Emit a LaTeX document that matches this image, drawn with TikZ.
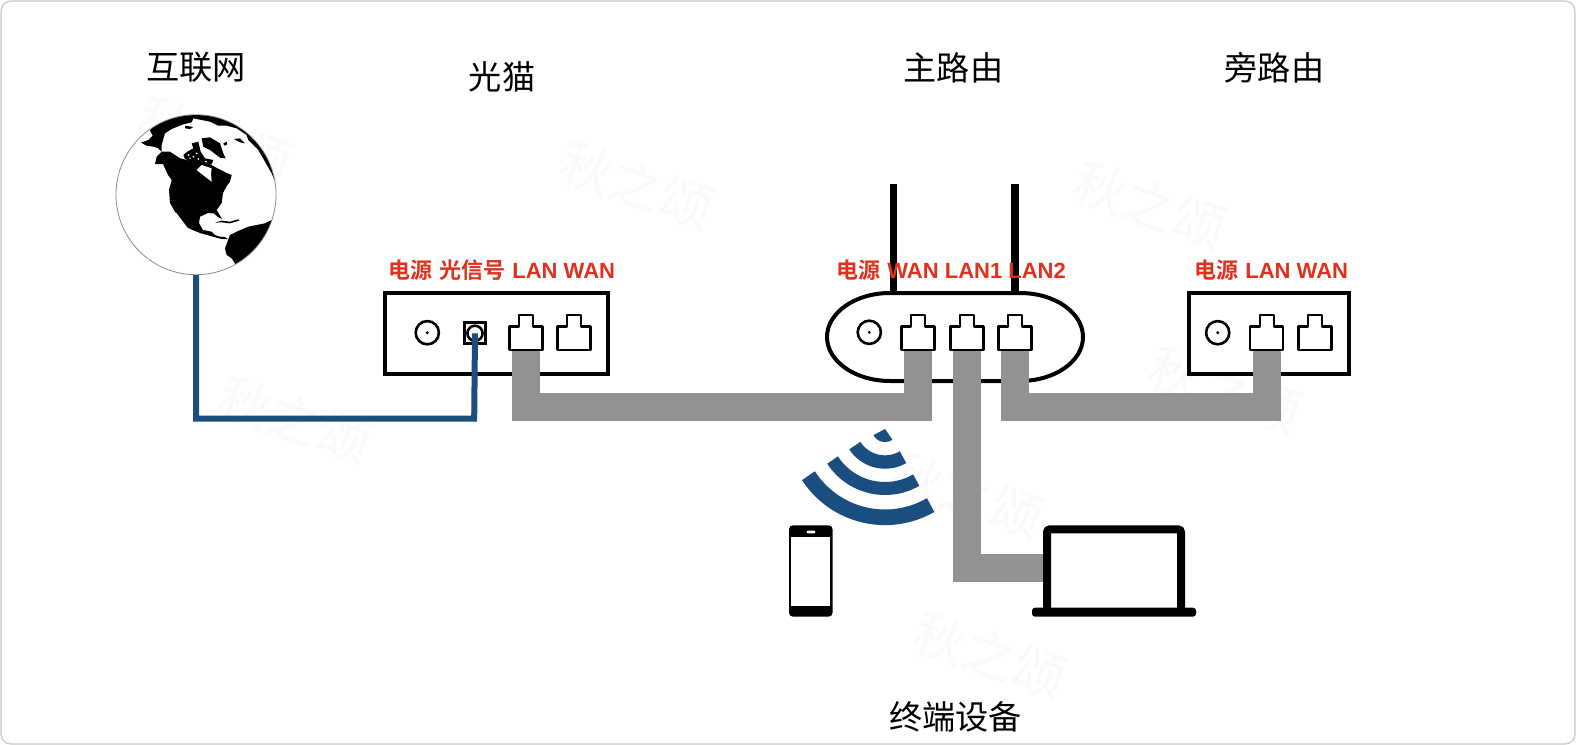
\documentclass[tikz,border=0pt]{standalone}
\usepackage{fontspec}
\newfontfamily\cjkfont{Noto Sans CJK SC}
\newfontfamily\cjkbold{Noto Sans CJK SC Bold}
\newfontfamily\latinbold{Liberation Sans Bold}
\definecolor{wireblue}{HTML}{1A4D80}
\definecolor{cablegray}{HTML}{929292}
\definecolor{labelred}{HTML}{E0301E}
\definecolor{markgray}{HTML}{FAFAFA}
\newcommand{\zh}[1]{{\cjkbold #1}}
\newcommand{\en}[1]{{\latinbold #1}}
\tikzset{
  x=0.5pt,y=-0.5pt,
  title/.style={font=\cjkfont\fontsize{16.6pt}{18pt}\selectfont,text=black,inner sep=0pt},
  portlabel/.style={font=\fontsize{11pt}{12pt}\selectfont,text=labelred,anchor=west,inner sep=0pt},
  watermark/.style={font=\cjkfont\fontsize{26pt}{28pt}\selectfont,text=markgray,rotate=-19,inner sep=0pt},
  devbox/.style={draw=black,line width=2pt,fill=white,inner sep=0pt},
  cable/.style={draw=cablegray,line width=14pt},
  fiber/.style={draw=wireblue,line width=3pt},
  powerjack/.style={circle,draw=black,line width=1.3pt,fill=white,minimum size=11.6pt,inner sep=0pt},
  antenna/.style={draw=black,line width=3.9pt},
  radio/.style={draw=wireblue,line width=7.8pt},
  land/.style={fill=black},
  rj/.pic={
    \draw[black,line width=1.1pt,fill=white,line join=round]
      (-16.5,0)--(-16.5,-23.5)--(-7,-23.5)--(-7,-35)--(7,-35)--(7,-23.5)--(16.5,-23.5)--(16.5,0)--cycle;
  }
}
\begin{document}
\begin{tikzpicture}
\useasboundingbox (0,0) rectangle (1576,745);
\fill[white] (0,0) rectangle (1576,745);
\draw[draw=black!22,line width=0.6pt,rounded corners=5pt] (1,1) rectangle (1575,744);

% watermarks
\node[watermark] (wm1) at (215,140) {秋之颂};
\node[watermark] (wm2) at (637,185) {秋之颂};
\node[watermark] (wm3) at (1150,205) {秋之颂};
\node[watermark] (wm4) at (295,420) {秋之颂};
\node[watermark] (wm5) at (1225,390) {秋之颂};
\node[watermark] (wm6) at (967,495) {秋之颂};
\node[watermark] (wm7) at (990,655) {秋之颂};

% port positions
\coordinate (mlan) at (526,350);
\coordinate (mwan) at (574,350);
\coordinate (rwan) at (918,350);
\coordinate (rlan1) at (967,350);
\coordinate (rlan2) at (1015,350);
\coordinate (slan) at (1266.7,350);
\coordinate (swan) at (1315,350);
\coordinate (bus) at (700,407);
\coordinate (fiblow) at (474.2,418.7);
\coordinate (laptopin) at (1044,567.5);

% globe
\node[circle,draw=black!45,line width=0.4pt,fill=white,minimum size=80pt,inner sep=0pt] (globe) at (196,194.7) {};
\begin{scope}
\clip (196,194.7) circle (79.6);
\begin{scope}[shift={(130,105)},scale=1/3]
  \fill[land] (33,113)--(55,105)--(68,92)--(60,76)--(100,40)--(150,20)--(220,15)--(300,30)--(370,70)--(420,140)--(450,240)--(438,238)--(425,205)--(405,170)--(385,135)--(355,105)--(350,90)--(320,70)--(290,62)--(265,62)--(240,50)--(190,40)--(185,52)--(160,58)--(125,72)--(105,85)--(95,120)--(95,140)--(85,130)--(70,125)--(50,122)--cycle;
  \fill[land] (215,100)--(240,97)--(270,115)--(280,145)--(287,160)--(270,158)--(240,135)--(220,125)--cycle;
  \fill[land] (160,150)--(172,140)--(190,130)--(185,115)--(205,110)--(212,140)--(225,160)--(250,165)--(245,178)--(215,178)--(190,172)--(165,162)--cycle;
  \fill[white] (175,150) circle (3) (190,155) circle (3) (200,145) circle (3) (180,160) circle (2.5) (205,162) circle (3) (228,170) circle (3);
  \fill[land] (280,115)--(290,110)--(292,118)--(283,122)--cycle;
  \fill[land] (312,102)--(330,100)--(345,115)--(330,112)--cycle;
  \fill[land] (165,62)--(190,66)--(180,72)--(165,70)--cycle;
\end{scope}
% North America
\fill[land] (155,164)--(156.7,156.7)--(161.7,151.7)--(170,151.7)--(180,158.3)--(196.7,162.3)--(208,163)--(215,167)--(226.7,173)--(231.7,175)--(230,181.7)--(226.7,186)--(223,193)--(221.7,203)--(216.7,210)--(222,219)--(218,217)--(214,213.5)--(208,213)--(200,216.7)--(199,223)--(203,230)--(211.7,231.7)--(215,235)--(220,236.7)--(225,237)--(228,239)--(221.7,239)--(213,236.7)--(200,233)--(188,228)--(181.7,220)--(175,211.7)--(170,203)--(169,190)--(171.7,180)--(168,175)--(163,164)--cycle;
\begin{scope}[shift={(130,105)},scale=1/3]
  \fill[white] (200,195)--(215,180)--(245,190)--(243,205)--(245,230)--(225,215)--cycle;
\end{scope}
\begin{scope}[shift={(150,180)},scale=1/3]
  \draw[white,line width=0.5pt] (78,100)--(105,137);
  \fill[land] (195,128)--(215,122)--(240,125)--(265,118)--(268,122)--(240,130)--(215,127)--cycle;
  % South America
  \fill[land] (235,178)--(225,205)--(230,225)--(245,235)--(260,258)--(300,245)--(350,200)--(375,115)--(345,130)--(320,135)--(295,140)--(260,155)--(240,165)--cycle;
\end{scope}
\end{scope}

% antennas
\draw[antenna] (893.5,184)--(893.5,292);
\draw[antenna] (1015.3,184)--(1015.3,292);

% device boxes
\node[devbox,minimum width=111.5pt,minimum height=40.5pt] (modem) at (496.3,333.4) {};
\node[devbox,minimum width=80pt,minimum height=40.5pt] (side) at (1268.5,333.4) {};
\draw[devbox] (890,293) -- (1020,293) arc[start angle=90,end angle=-90,x radius=31.5pt,y radius=22pt] -- (890,381) arc[start angle=270,end angle=90,x radius=31.5pt,y radius=22pt] -- cycle;

% power jacks
\node[powerjack] (pw1) at (427.3,332.7) {};
\node[powerjack] (pw2) at (869.3,332.3) {};
\node[powerjack] (pw3) at (1217.7,332.7) {};
\fill[black] (pw1) circle (1.6) (pw2) circle (1.6) (pw3) circle (1.6);

% fibre port
\node[draw=black,line width=1.3pt,minimum size=10.5pt,inner sep=0pt] (fibbox) at (475,333) {};
\node[circle,draw=black,line width=1.3pt,minimum size=7.6pt,inner sep=0pt] (fibport) at (475,333.3) {};

% links
\draw[fiber] (globe.south) |- (fiblow) -- (fibport.center);
\draw[cable] (mlan) |- (bus) -| (rwan);
\draw[cable] (rlan2) |- (1140,407) -| (slan);
\draw[cable] (rlan1) |- (laptopin);

% ports
\pic at (mlan) {rj};
\pic at (mwan) {rj};
\pic at (rwan) {rj};
\pic at (rlan1) {rj};
\pic at (rlan2) {rj};
\pic at (slan) {rj};
\pic at (swan) {rj};

% wifi
\draw[radio] plot[domain=60:147,samples=30] ({885+91.3*cos(\x)},{426+91.3*sin(\x)});
\draw[radio,line width=6.5pt] plot[domain=60:147,samples=30] ({885+62.5*cos(\x)},{426+62.5*sin(\x)});
\draw[radio,line width=6.7pt] plot[domain=60:147,samples=30] ({885+36*cos(\x)},{426+36*sin(\x)});
\fill[wireblue] (885,429) -- plot[domain=55:152,samples=15] ({885+13*cos(\x)},{429+13*sin(\x)}) -- cycle;

% phone
\node[fill=black,rounded corners=2pt,minimum width=21.8pt,minimum height=45.7pt,inner sep=0pt] (phone) at (810.8,571) {};
\fill[white] (791,537) rectangle (830.3,606);
\fill[white,rounded corners=0.5pt] (806.7,530.7) rectangle (815.3,533.3);

% laptop
\draw[black,line width=4pt,fill=white,rounded corners=1.5pt] (1047,609) -- (1047,529.3) -- (1181,529.3) -- (1181,609);
\node[fill=black,minimum width=82pt,minimum height=4.5pt,inner sep=0pt,rounded corners=1.5pt] (laptop) at (1114,612.2) {};

% titles
\node[title] (t1) at (196,67.5) {互联网};
\node[title] (t2) at (502,77) {光猫};
\node[title] (t3) at (953.5,67.5) {主路由};
\node[title] (t4) at (1274.5,67.5) {旁路由};
\node[title] (t5) at (955.5,717) {终端设备};

% port labels
\node[portlabel] (l1) at (388,270.5) {\zh{电源}\hspace{3.5pt}\zh{光信号}\hspace{3.5pt}\en{LAN WAN}};
\node[portlabel] (l2) at (836,270.5) {\zh{电源}\hspace{3.5pt}\en{WAN LAN1 LAN2}};
\node[portlabel] (l3) at (1194,270.5) {\zh{电源}\hspace{3.5pt}\en{LAN WAN}};
\end{tikzpicture}
\end{document}
